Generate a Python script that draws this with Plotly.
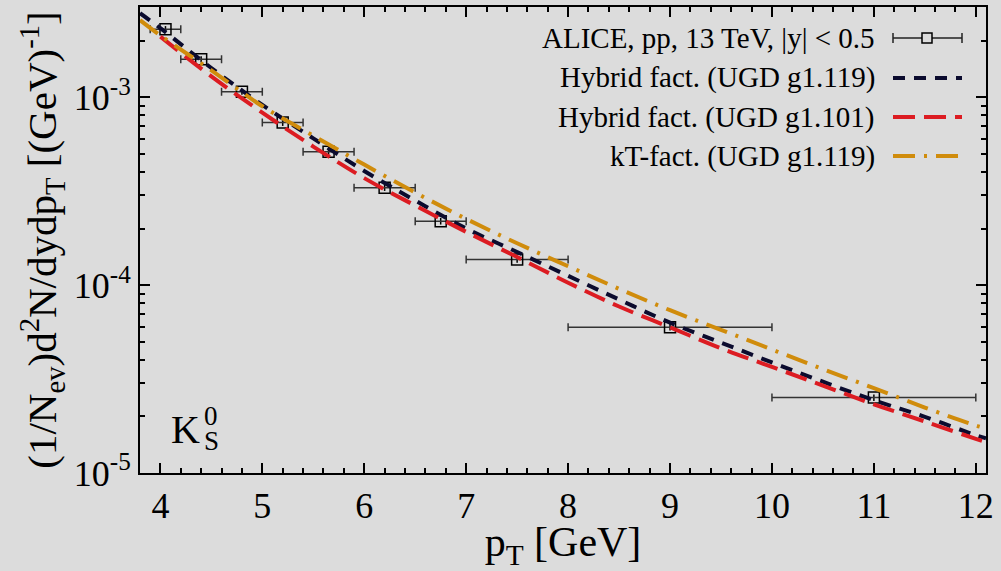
import plotly.graph_objects as go

# ALICE data
pt = [4.05, 4.4, 4.8, 5.2, 5.65, 6.2, 6.75, 7.5, 9.0, 11.0]
pt_lo = [0.15, 0.2, 0.2, 0.2, 0.25, 0.3, 0.25, 0.5, 1.0, 1.0]
pt_hi = [0.15, 0.2, 0.2, 0.2, 0.25, 0.3, 0.25, 0.5, 1.0, 1.0]
yield_data = [2.30e-3, 1.59e-3, 1.07e-3, 7.33e-4, 5.12e-4, 3.30e-4, 2.19e-4, 1.37e-4, 5.97e-5, 2.52e-5]
yield_err = [9e-5, 6e-5, 4e-5, 3e-5, 2e-5, 1.3e-5, 9e-6, 5.5e-6, 2.4e-6, 1.0e-6]

# model curves
curve_x = [3.8, 4.0, 4.5, 5.0, 5.5, 6.0, 6.5, 7.0, 7.5, 8.0, 8.5, 9.0, 9.5, 10.0, 10.5, 11.0, 11.5, 12.0, 12.1]
hyb_g1119 = [2.80e-3, 2.33e-3, 1.43e-3, 9.10e-4, 6.04e-4, 4.05e-4, 2.82e-4, 2.00e-4, 1.50e-4, 1.12e-4,
             8.38e-5, 6.31e-5, 4.94e-5, 3.88e-5, 3.06e-5, 2.44e-5, 1.99e-5, 1.59e-5, 1.53e-5]
red_x = [4.0, 4.5, 5.0, 5.5, 6.0, 6.5, 7.0, 7.5, 8.0, 8.5, 9.0, 9.5, 10.0, 10.5, 11.0, 11.5, 12.0, 12.1]
hyb_g1101 = [2.10e-3, 1.29e-3, 8.28e-4, 5.46e-4, 3.71e-4, 2.65e-4, 1.92e-4, 1.41e-4, 1.03e-4, 7.69e-5,
             5.96e-5, 4.61e-5, 3.67e-5, 2.92e-5, 2.32e-5, 1.88e-5, 1.52e-5, 1.46e-5]
kt_g1119 = [2.57e-3, 2.13e-3, 1.39e-3, 8.95e-4, 6.24e-4, 4.38e-4, 3.11e-4, 2.25e-4, 1.67e-4, 1.26e-4,
            9.55e-5, 7.35e-5, 5.78e-5, 4.54e-5, 3.57e-5, 2.83e-5, 2.23e-5, 1.79e-5, 1.73e-5]

legend_labels = ["ALICE, pp, 13 TeV, |y| < 0.5", "Hybrid fact. (UGD g1.119)",
                 "Hybrid fact. (UGD g1.101)", "kT-fact. (UGD g1.119)"]

BLACK = "#0b0b2e"
RED = "#dc1c22"
ORANGE = "#d08c0c"
BG = "#dcdcdc"
FONT = "Liberation Serif"

fig = go.Figure()
fig.add_trace(go.Scatter(
    x=pt, y=yield_data, mode="markers",
    marker=dict(symbol="square-open", size=11, color="black", line=dict(width=1.5, color="black")),
    error_x=dict(type="data", symmetric=False, array=pt_hi, arrayminus=pt_lo,
                 color="#333333", thickness=1.5, width=4),
    error_y=dict(type="data", array=yield_err, color="black", thickness=1.5, width=0),
    showlegend=False))
fig.add_trace(go.Scatter(x=curve_x, y=hyb_g1119, mode="lines", line_shape="spline",
                         line=dict(color=BLACK, width=4, dash="12px,9px"), showlegend=False))
fig.add_trace(go.Scatter(x=red_x, y=hyb_g1101, mode="lines", line_shape="spline",
                         line=dict(color=RED, width=4, dash="22px,9px"), showlegend=False))
fig.add_trace(go.Scatter(x=curve_x, y=kt_g1119, mode="lines", line_shape="spline",
                         line=dict(color=ORANGE, width=4, dash="22px,9px,3px,9px"), showlegend=False))

# plot area in pixels
L, R, T, B = 140, 986, 7, 473
W, H = R - L, B - T
def px(x): return (x - L) / W
def py(y): return (B - y) / H

# legend built manually (symbol right of text)
rows = [38, 78, 117, 156]
sx0, sx1 = 893, 962
for lab, yy in zip(legend_labels, rows):
    fig.add_annotation(x=px(877), y=py(yy), xref="paper", yref="paper", text=lab, showarrow=False,
                       xanchor="right", yanchor="middle", font=dict(family=FONT, size=29, color="black"))
# ALICE sample
y0 = rows[0]
fig.add_shape(type="line", xref="paper", yref="paper", x0=px(sx0), x1=px(sx1), y0=py(y0), y1=py(y0),
              line=dict(color="#222", width=1.5))
for xe in (sx0, sx1):
    fig.add_shape(type="line", xref="paper", yref="paper", x0=px(xe), x1=px(xe), y0=py(y0 - 5), y1=py(y0 + 5),
                  line=dict(color="#222", width=1.5))
fig.add_shape(type="rect", xref="paper", yref="paper", x0=px(922), x1=px(932), y0=py(y0 - 5), y1=py(y0 + 5),
              line=dict(color="black", width=1.5), fillcolor=BG)
for yy, col, dsh in zip(rows[1:], [BLACK, RED, ORANGE], ["12px,9px", "22px,9px", "22px,9px,3px,9px"]):
    fig.add_shape(type="line", xref="paper", yref="paper", x0=px(sx0), x1=px(sx1), y0=py(yy), y1=py(yy),
                  line=dict(color=col, width=4, dash=dsh))

# K_S^0 label
fig.add_annotation(x=px(169), y=py(429), xref="paper", yref="paper", text="K", showarrow=False,
                   xanchor="left", yanchor="middle", font=dict(family=FONT, size=40, color="black"))
fig.add_annotation(x=px(202), y=py(416), xref="paper", yref="paper", text="0", showarrow=False,
                   xanchor="left", yanchor="middle", font=dict(family=FONT, size=27, color="black"))
fig.add_annotation(x=px(202), y=py(441), xref="paper", yref="paper", text="S", showarrow=False,
                   xanchor="left", yanchor="middle", font=dict(family=FONT, size=27, color="black"))

y_minor = [m * 10 ** e for e in (-5, -4, -3) for m in range(2, 10) if m * 10 ** e < 3.0e-3]

fig.update_layout(
    width=1001, height=571,
    margin=dict(l=L, r=1001 - R, t=T, b=571 - B),
    paper_bgcolor=BG, plot_bgcolor=BG,
    font=dict(family=FONT, size=36, color="black"),
    xaxis=dict(range=[3.8, 12.1], tickvals=[4, 5, 6, 7, 8, 9, 10, 11, 12],
               ticks="inside", ticklen=10, tickwidth=1.5, tickcolor="black",
               minor=dict(dtick=0.2, tick0=0, ticks="inside", ticklen=5, tickwidth=1.5, tickcolor="black"),
               showline=True, linecolor="black", linewidth=2, mirror="allticks",
               showgrid=False, zeroline=False, automargin=False,
               tickfont=dict(family=FONT, size=36),
               title=dict(text="p<sub>T</sub> [GeV]", font=dict(family=FONT, size=42), standoff=8)),
    yaxis=dict(type="log", range=[-5, -2.52],
               tickvals=[1e-5, 1e-4, 1e-3],
               ticktext=["10<sup>-5</sup>", "10<sup>-4</sup>", "10<sup>-3</sup>"],
               ticks="inside", ticklen=10, tickwidth=1.5, tickcolor="black",
               minor=dict(tickvals=y_minor, ticks="inside", ticklen=5, tickwidth=1.5, tickcolor="black"),
               showline=True, linecolor="black", linewidth=2, mirror="allticks",
               showgrid=False, zeroline=False, automargin=False,
               tickfont=dict(family=FONT, size=36),
               title=dict(text="(1/N<sub>ev</sub>)d<sup>2</sup>N/dydp<sub>T</sub> [(GeV)<sup>-1</sup>]",
                          font=dict(family=FONT, size=41), standoff=4)),
)

fig.write_html("out.html", config={"displayModeBar": False},
               post_script="document.body.style.margin='0';document.body.style.overflow='hidden';")
